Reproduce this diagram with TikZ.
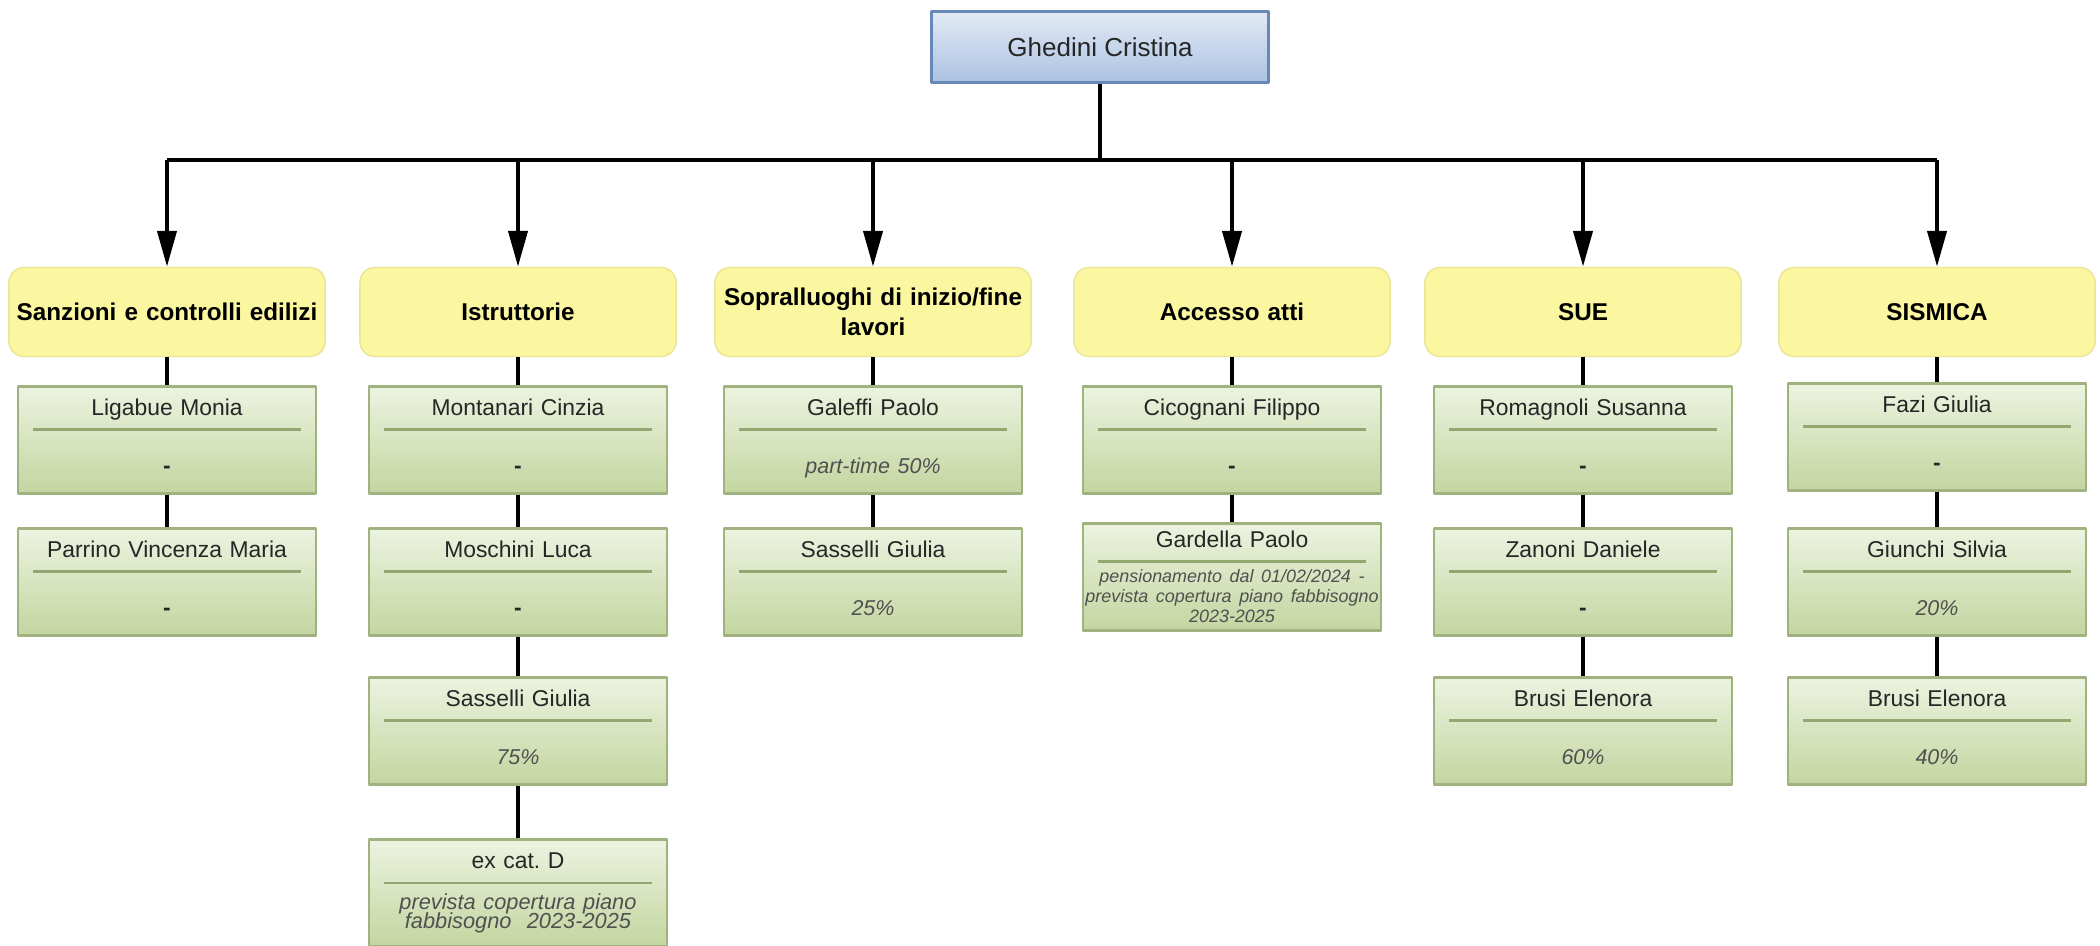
\documentclass[tikz,border=0pt]{standalone}
\usepackage{fontspec}
\setmainfont{Liberation Sans}
\usetikzlibrary{arrows.meta,positioning,calc}

\definecolor{btop}{RGB}{226,234,245}
\definecolor{bbot}{RGB}{172,194,226}
\definecolor{bline}{RGB}{104,136,186}
\definecolor{yfill}{RGB}{251,247,160}
\definecolor{yline}{RGB}{236,228,150}
\definecolor{gtop}{RGB}{236,243,224}
\definecolor{gbot}{RGB}{196,213,160}
\definecolor{gline}{RGB}{160,178,128}
\definecolor{sepgreen}{RGB}{146,168,112}
\definecolor{txt}{RGB}{38,38,38}
\definecolor{notegrey}{RGB}{80,80,80}

\newcommand{\sepline}[1][2.9pt]{\\[-2pt]\textcolor{sepgreen}{\rule[1.45pt]{2.67cm}{0.7pt}}\\[#1]}
\newcommand{\vuoto}{\textbf{-}\rule[-2.3pt]{0pt}{0pt}}
\newcommand{\pnote}[1]{{\itshape\color{notegrey}\fontsize{6.1pt}{7.8pt}\selectfont #1}\rule[-2.3pt]{0pt}{0pt}}
\newcommand{\snote}[2][5.1pt]{{\itshape\color{notegrey}\fontsize{#1}{#1}\selectfont #2}}
\newcommand{\fontpersona}{\fontsize{6.5pt}{7.8pt}\selectfont\lineskiplimit=-20pt\relax}

\begin{document}
\begin{tikzpicture}[x=0.01cm, y=-0.01cm, line join=round,
  head/.style={draw=bline, line width=0.8pt, top color=btop, bottom color=bbot,
    minimum width=3.37cm, minimum height=0.71cm, text=txt,
    font=\fontsize{7.4pt}{9pt}\selectfont},
  area/.style={draw=yline, fill=yfill, rounded corners=0.15cm,
    minimum width=3.16cm, minimum height=0.89cm, text width=3.1cm, inner xsep=0.03cm,
    align=center, font=\bfseries\fontsize{6.9pt}{8.5pt}\selectfont},
  person/.style={draw=gline, line width=0.6pt, top color=gtop, bottom color=gbot,
    minimum width=2.97cm, minimum height=1.07cm, text width=2.75cm,
    inner xsep=0.11cm, inner ysep=0pt, align=center, text=txt,
    font=\fontpersona},
  link/.style={line width=1.2pt},
  arr/.style={link, -{Triangle[length=3.6mm,width=1.9mm]}}]
\useasboundingbox (0,0) rectangle (2100,945);
\clip (0,0) rectangle (2100,945);
\fill[white] (0,0) rectangle (2100,945);

\node[head] (boss) at (1100,47) {Ghedini Cristina};
\coordinate (bus) at (1100,160);

% uffici
\node[area] (san) at (167,312) {Sanzioni e controlli edilizi};
\node[area] (ist) at (518,312) {Istruttorie};
\node[area] (sop) at (873,312) {Sopralluoghi di inizio/fine\\lavori};
\node[area] (acc) at (1232,312) {Accesso atti};
\node[area] (sue) at (1583,312) {SUE};
\node[area] (sis) at (1937,312) {SISMICA};

% persone
\node[person] (san1) at (167,440) {Ligabue Monia\sepline\vuoto};
\node[person] (san2) at (167,582) {Parrino Vincenza Maria\sepline\vuoto};
\node[person] (ist1) at (518,440) {Montanari Cinzia\sepline\vuoto};
\node[person] (ist2) at (518,582) {Moschini Luca\sepline\vuoto};
\node[person] (ist3) at (518,731) {Sasselli Giulia\sepline\pnote{75\%}};
\node[person] (ist4) at (518,893) {ex cat.\ D\sepline[-1.9pt]\snote[6.2pt]{prevista copertura piano}\\[-2.5pt]\snote[6.2pt]{fabbisogno\ \ 2023-2025}};
\node[person] (sop1) at (873,440) {Galeffi Paolo\sepline\pnote{part-time 50\%}};
\node[person] (sop2) at (873,582) {Sasselli Giulia\sepline\pnote{25\%}};
\node[person] (acc1) at (1232,440) {Cicognani Filippo\sepline\vuoto};
\node[person, text width=2.93cm, inner xsep=0.02cm] (acc2) at (1232,577) {Gardella Paolo\sepline[-3.6pt]\snote{pensionamento dal 01/02/2024 -}\\[-2.1pt]\snote{prevista copertura piano fabbisogno}\\[-2.1pt]\snote{2023-2025}};
\node[person] (sue1) at (1583,440) {Romagnoli Susanna\sepline\vuoto};
\node[person] (sue2) at (1583,582) {Zanoni Daniele\sepline\vuoto};
\node[person] (sue3) at (1583,731) {Brusi Elenora\sepline\pnote{60\%}};
\node[person] (sis1) at (1937,437) {Fazi Giulia\sepline\vuoto};
\node[person] (sis2) at (1937,582) {Giunchi Silvia\sepline\pnote{20\%}};
\node[person] (sis3) at (1937,731) {Brusi Elenora\sepline\pnote{40\%}};

% collegamenti
\draw[link] (boss.south) -- (bus);
\draw[link] (san.north |- bus) -- (sis.north |- bus);
\foreach \u in {san,ist,sop,acc,sue,sis}
  \draw[arr] (\u.north |- bus) -- (\u.north);
\draw[link] (san) -- (san1) (san1) -- (san2);
\draw[link] (ist) -- (ist1) (ist1) -- (ist2) (ist2) -- (ist3) (ist3) -- (ist4);
\draw[link] (sop) -- (sop1) (sop1) -- (sop2);
\draw[link] (acc) -- (acc1) (acc1) -- (acc2);
\draw[link] (sue) -- (sue1) (sue1) -- (sue2) (sue2) -- (sue3);
\draw[link] (sis) -- (sis1) (sis1) -- (sis2) (sis2) -- (sis3);
\end{tikzpicture}
\end{document}
